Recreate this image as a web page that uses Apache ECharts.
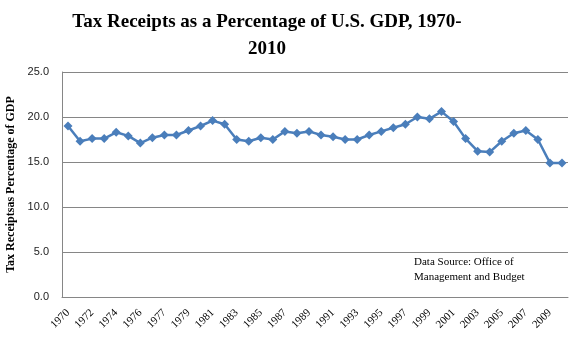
<!DOCTYPE html>
<html>
<head>
<meta charset="utf-8">
<script src="https://cdn.jsdelivr.net/npm/echarts@6/dist/echarts.min.js"></script>
<style>
html, body { margin: 0; padding: 0; background: #fff; }
#main { width: 570px; height: 352px; }
</style>
</head>
<body>
<div id="main"></div>
<script>
// fiscal years (TQ = transition quarter between FY1976 and FY1977)
var years = ['1970','1971','1972','1973','1974','1975','1976','TQ','1977','1978',
    '1979','1980','1981','1982','1983','1984','1985','1986','1987','1988',
    '1989','1990','1991','1992','1993','1994','1995','1996','1997','1998',
    '1999','2000','2001','2002','2003','2004','2005','2006','2007','2008',
    '2009','2010'];
// receipts as % of GDP
var receipts = [19.0, 17.3, 17.6, 17.6, 18.3, 17.9, 17.1, 17.7, 18.0, 18.0,
    18.5, 19.0, 19.6, 19.2, 17.5, 17.3, 17.7, 17.5, 18.4, 18.2,
    18.4, 18.0, 17.8, 17.5, 17.5, 18.0, 18.4, 18.8, 19.2, 20.0,
    19.8, 20.6, 19.5, 17.6, 16.2, 16.1, 17.3, 18.2, 18.5, 17.5,
    14.9, 14.9];
var yMin = 0, yMax = 25, yStep = 5;

var dom = document.getElementById('main');
var myChart = echarts.init(dom);

var option = {
    animation: false,
    title: {
        text: 'Tax Receipts as a Percentage of U.S. GDP, 1970-\n2010',
        left: 262,
        textAlign: 'center',
        top: 4,
        textStyle: {
            fontFamily: 'Liberation Serif',
            fontSize: 19,
            fontWeight: 'bold',
            color: '#000',
            lineHeight: 27
        }
    },
    grid: {
        left: 62,
        right: 2,
        top: 72,
        bottom: 55,
        outerBoundsMode: 'none'
    },
    xAxis: {
        type: 'category',
        data: years,
        boundaryGap: true,
        axisLine: { lineStyle: { color: '#868686', width: 1 } },
        axisTick: { show: false },
        axisLabel: {
            interval: 1,
            rotate: 45,
            margin: 14,
            fontFamily: 'Liberation Serif',
            fontSize: 11,
            color: '#000'
        }
    },
    yAxis: {
        type: 'value',
        min: yMin,
        max: yMax,
        interval: yStep,
        name: 'Tax Receiptsas Percentage of GDP',
        nameLocation: 'middle',
        nameGap: 45,
        nameTextStyle: {
            fontFamily: 'Liberation Serif',
            fontSize: 12,
            fontWeight: 'bold',
            color: '#000'
        },
        axisLine: { show: true, lineStyle: { color: '#868686', width: 1 } },
        axisTick: { show: false },
        axisLabel: {
            margin: 13,
            fontFamily: 'Liberation Sans',
            fontSize: 11,
            color: '#222',
            formatter: function (v) { return v.toFixed(1); }
        },
        splitLine: { lineStyle: { color: '#868686', width: 1 } }
    },
    graphic: [
        {
            type: 'text',
            left: 414,
            top: 255,
            style: {
                text: 'Data Source: Office of\nManagement and Budget',
                fontFamily: 'Liberation Serif',
                fontSize: 11,
                lineHeight: 15,
                fill: '#000'
            }
        }
    ],
    series: [
        {
            name: 'Receipts',
            type: 'line',
            data: receipts,
            symbol: 'diamond',
            symbolSize: 9,
            showAllSymbol: true,
            lineStyle: { color: '#4a7ebb', width: 2.5 },
            itemStyle: { color: '#4a7ebb' }
        }
    ]
};
myChart.setOption(option);
</script>
</body>
</html>
